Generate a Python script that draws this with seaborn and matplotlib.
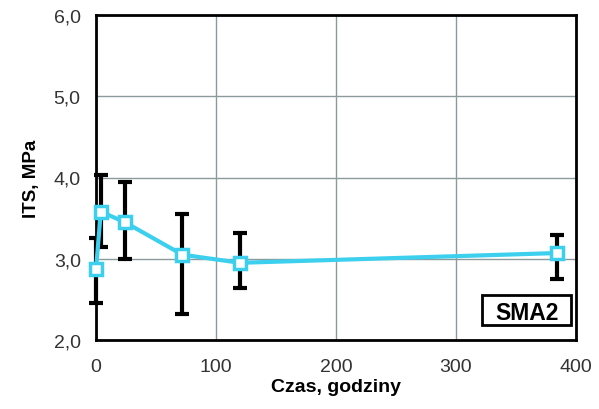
import matplotlib
matplotlib.use("Agg")
import matplotlib.pyplot as plt
import seaborn as sns
import pandas as pd
import numpy as np
from matplotlib.ticker import FuncFormatter
from matplotlib.patches import Rectangle

hours = [0, 4, 24, 72, 120, 384]
its = [2.87, 3.58, 3.45, 3.05, 2.95, 3.07]
err_low = [2.46, 3.15, 3.00, 2.32, 2.64, 2.75]
err_high = [3.25, 4.03, 3.94, 3.55, 3.32, 3.29]

sns.set_theme(style="white")
plt.rcParams['font.family'] = ['Liberation Sans', 'DejaVu Sans']

df = pd.DataFrame({"Czas": hours, "ITS": its})

fig = plt.figure(figsize=(5.99, 4.10), dpi=100)
ax = fig.add_axes([96/599, 1 - 341/410, (576-96)/599, (341-16)/410])

yerr = np.array([np.array(its) - np.array(err_low), np.array(err_high) - np.array(its)])
ax.errorbar(hours, its, yerr=yerr, fmt='none', ecolor='black', elinewidth=3,
            capsize=5, capthick=3, zorder=3, clip_on=False)

sns.lineplot(data=df, x="Czas", y="ITS", ax=ax, color='#3DD0EE', linewidth=3,
             marker='s', markersize=9, markerfacecolor='white',
             markeredgecolor='#3DD0EE', markeredgewidth=2.5, zorder=4, clip_on=False)

ax.set_xlim(0, 400)
ax.set_ylim(2.0, 6.0)
ax.set_xticks([0, 100, 200, 300, 400])
ax.set_yticks([2.0, 3.0, 4.0, 5.0, 6.0])
ax.yaxis.set_major_formatter(FuncFormatter(lambda v, p: f"{v:.1f}".replace('.', ',')))
ax.grid(True, color='#8c9a9c', linewidth=1)
ax.set_axisbelow(True)
for s in ax.spines.values():
    s.set_color('black')
    s.set_linewidth(2)
ax.tick_params(axis='y', length=0, labelsize=14, colors='#333333', pad=11)
ax.tick_params(axis='x', length=0, labelsize=14, colors='#333333', pad=13)
ax.set_xlabel("Czas, godziny", fontsize=14, fontweight='bold', color='black', labelpad=2)
ax.set_ylabel("ITS, MPa", fontsize=13.5, fontweight='bold', color='black', labelpad=10)

ax.add_patch(Rectangle((0.804, 0.046), 0.186, 0.092, transform=ax.transAxes,
                       facecolor='white', edgecolor='black', linewidth=2, zorder=5))
ax.text(0.897, 0.092, "SMA2", transform=ax.transAxes, ha='center', va='center_baseline',
        fontsize=16.5, fontweight='bold', color='black', zorder=6)

fig.savefig("out.png", dpi=100)
